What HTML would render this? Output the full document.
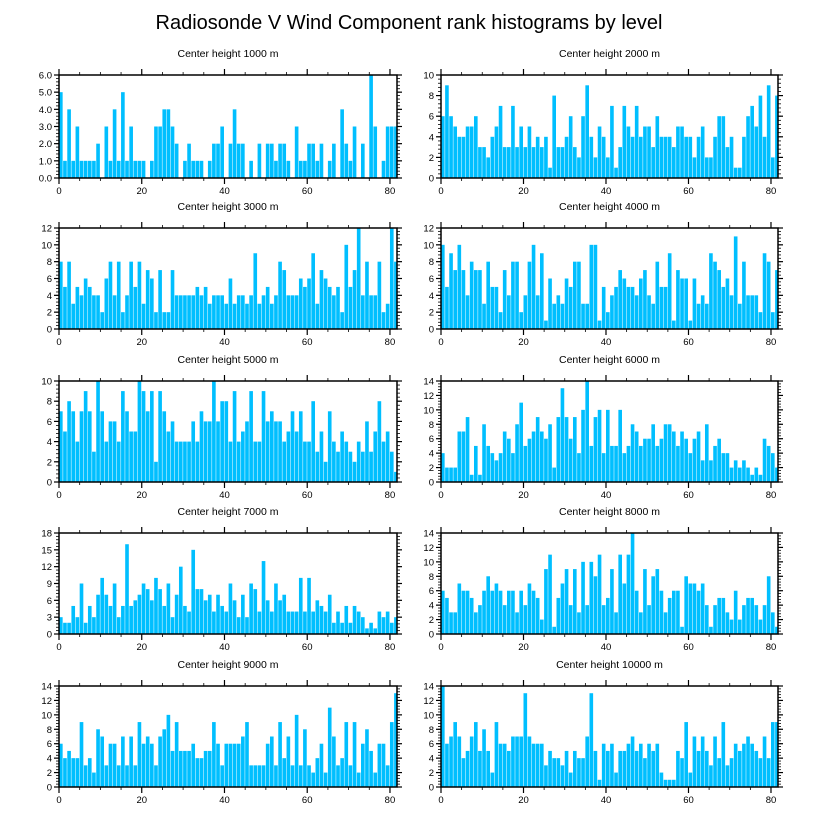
<!DOCTYPE html>
<html><head><meta charset="utf-8"><style>
body{margin:0;background:#fff;width:818px;height:824px;overflow:hidden;font-family:"Liberation Sans",sans-serif}
</style></head><body>
<svg id="fig" width="818" height="824" xmlns="http://www.w3.org/2000/svg">
<text x="409" y="29" text-anchor="middle" font-size="20" font-family="Liberation Sans, sans-serif">Radiosonde V Wind Component rank histograms by level</text>
</svg>
<script>
const levels = ["1000","2000","3000","4000","5000","6000","7000","8000","9000","10000"];
const yMaxes = [6,10,12,12,10,14,18,14,14,14];
const yMajorSteps = [1,2,2,2,2,2,3,2,2,2];
const xTickLabels = [0,20,40,60,80];
const xMax = 81.7;
const v1000 = [5,1,4,1,3,1,1,1,1,2,0,3,1,4,1,5,1,3,1,1,1,0,1,3,3,4,4,3,2,0,1,2,1,1,1,0,1,2,2,3,0,2,4,2,2,0,1,0,2,0,2,2,1,2,2,1,0,3,1,1,2,2,1,2,0,1,2,0,4,2,1,3,0,2,0,6,3,0,1,3,3,3];
const v2000 = [6,9,6,5,4,4,5,5,6,3,3,2,4,5,7,3,3,7,3,5,3,5,3,4,3,4,1,8,3,3,4,6,3,2,6,9,4,2,5,4,2,7,1,3,7,5,4,7,4,5,5,3,6,4,4,4,3,5,5,4,4,2,4,5,2,2,4,6,6,3,4,1,1,4,6,7,5,8,4,9,2,8];
const v3000 = [8,5,8,3,5,4,6,5,4,4,2,6,8,4,8,2,4,8,5,8,3,7,6,2,7,2,2,7,4,4,4,4,4,5,4,5,3,4,4,4,3,6,3,4,4,3,4,9,3,4,5,3,4,8,7,4,4,4,6,5,6,9,3,7,6,5,4,5,2,10,5,7,12,4,8,4,4,8,2,3,12,8];
const v4000 = [10,5,9,7,10,7,4,8,7,7,3,8,5,5,2,7,4,8,8,2,4,8,10,4,9,1,6,3,4,3,6,5,8,8,3,3,10,10,1,5,2,4,5,7,6,5,5,4,6,7,4,3,8,5,5,9,1,7,6,6,1,6,3,4,3,9,8,7,5,6,4,11,3,8,4,4,4,2,9,8,2,7];
const v5000 = [7,5,8,7,4,7,9,7,3,10,7,4,6,6,4,9,7,5,5,10,9,7,9,2,9,7,5,6,4,4,4,4,6,4,7,6,6,10,6,8,8,4,9,4,5,6,9,4,4,9,6,7,6,6,4,5,7,5,7,4,4,8,3,5,2,7,4,3,5,4,3,2,4,3,6,3,5,8,4,5,3,1];
const v6000 = [4,2,2,2,7,7,9,1,5,1,8,5,4,3,4,7,6,4,8,11,5,6,7,9,7,6,8,2,9,13,9,6,9,4,10,14,5,9,10,4,10,5,5,10,4,5,8,7,5,6,6,8,5,6,8,8,7,5,7,6,4,6,7,3,8,3,5,6,4,4,2,3,2,3,2,1,2,1,6,5,4,2];
const v7000 = [3,2,2,5,3,9,2,5,3,7,10,7,5,9,3,5,16,5,6,7,9,8,6,10,8,5,9,3,7,12,5,4,15,8,8,6,7,4,7,5,4,9,6,3,7,3,9,8,4,13,6,4,9,6,7,4,4,4,10,4,10,4,6,5,4,7,2,4,2,5,2,5,4,3,1,2,1,4,3,4,2,3];
const v8000 = [6,5,3,3,7,6,6,5,3,4,6,8,6,7,6,4,6,6,3,6,4,7,6,5,2,9,11,1,5,7,9,4,9,3,10,4,10,8,11,4,5,9,3,11,7,11,14,6,3,9,4,8,9,6,3,5,6,6,1,8,7,7,6,7,4,1,4,5,5,3,2,6,2,4,5,5,4,2,4,8,3,1];
const v9000 = [6,4,5,4,4,9,3,4,2,8,7,3,6,6,3,7,3,7,3,9,6,7,6,3,7,8,10,5,9,5,5,5,6,4,4,5,5,9,6,3,6,6,6,6,7,9,3,3,3,3,6,7,3,9,4,7,3,10,3,8,3,2,4,6,2,11,7,3,4,9,3,9,2,6,8,5,2,6,6,3,9,13];
const v10000 = [14,6,7,9,7,4,5,7,9,5,8,5,2,9,6,6,5,7,7,7,13,7,6,6,6,3,5,4,4,3,5,2,5,4,4,7,13,5,1,6,5,6,2,5,5,6,7,5,6,4,6,5,6,2,1,1,1,5,4,9,2,7,5,7,5,3,7,4,9,3,4,6,5,6,7,6,5,4,7,4,9,9];
const seriesList = [v1000,v2000,v3000,v4000,v5000,v6000,v7000,v8000,v9000,v10000];

const svg = document.getElementById('fig');
const NS = 'http://www.w3.org/2000/svg';
const colsX = [[59,397],[441,778]];
const rowsY = [[75,178],[228,329],[381,482],[533,634],[686,787]];
function mk(tag, attrs, parent){const e=document.createElementNS(NS,tag);for(const k in attrs)e.setAttribute(k,attrs[k]);(parent||svg).appendChild(e);return e;}

seriesList.forEach((vals, p) => {
  const [L,R] = colsX[p%2];
  const [T,B] = rowsY[Math.floor(p/2)];
  const yMax = yMaxes[p], step = yMajorSteps[p];
  const xs = v => L + (v/xMax)*(R-L);
  const ys = v => B - (v/yMax)*(B-T);
  const g = mk('g', {});
  
  
  const title = mk('text', {x:(L+R)/2, y:T-18, 'text-anchor':'middle', 'font-size':'10.5'}, g);
  
  
  title.textContent = 'Center height ' + levels[p] + ' m';
  vals.forEach((v, i) => {
    const x0 = xs(i), x1 = xs(Math.min(i+1, xMax));
    if (v <= 0 || x1 <= x0) return;
    const r = mk('rect', {x:x0, y:ys(v), width:Math.max(0,x1-x0-0.5), height:B-ys(v), fill:'#00BFFF'}, g);
    
    
  });
  // minor y ticks
  const minorY = step/5;
  for (let v = 0; v <= yMax + 1e-9; v += minorY) {
    const y = ys(v);
    mk('line', {x1:L-3, x2:L, y1:y, y2:y, stroke:'#000', 'stroke-width':0.8}, g);
    mk('line', {x1:R, x2:R+3, y1:y, y2:y, stroke:'#000', 'stroke-width':0.8}, g);
  }
  for (let v = 0; v <= yMax + 1e-9; v += step) {
    const y = ys(v);
    mk('line', {x1:L-5, x2:L, y1:y, y2:y, stroke:'#000', 'stroke-width':1.2}, g);
    mk('line', {x1:R, x2:R+5, y1:y, y2:y, stroke:'#000', 'stroke-width':1.2}, g);
    const t = mk('text', {x:L-7, y:y+3.5, 'text-anchor':'end', 'font-size':'9.5'}, g);
    
    
    t.textContent = yMax === 6 ? v.toFixed(1) : String(v);
  }
  for (let v = 0; v <= xMax; v += 5) {
    const x = xs(v), maj = v % 20 === 0;
    const len = maj ? 6 : 3;
    mk('line', {x1:x, x2:x, y1:B, y2:B+len, stroke:'#000', 'stroke-width':maj?1.2:0.8}, g);
    mk('line', {x1:x, x2:x, y1:T-len, y2:T, stroke:'#000', 'stroke-width':maj?1.2:0.8}, g);
  }
  xTickLabels.forEach(v => {
    const t = mk('text', {x:xs(v), y:B+16, 'text-anchor':'middle', 'font-size':'9.5'}, g);
    
    
    t.textContent = String(v);
  });
  const fr = mk('rect', {x:L, y:T, width:R-L, height:B-T, fill:'none', stroke:'#000', 'stroke-width':1.5}, g);
  
  
});
</script>
</body></html>
